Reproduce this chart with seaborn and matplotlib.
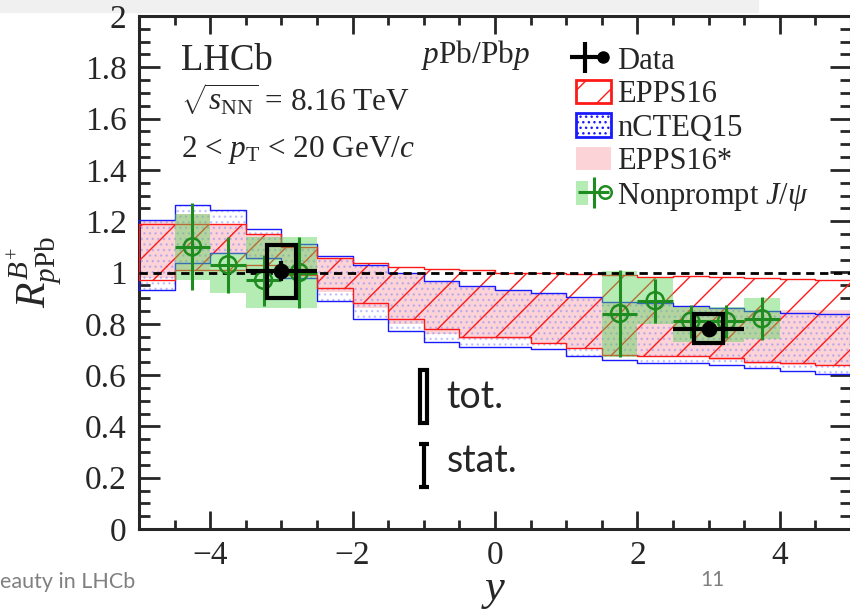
import numpy as np
import matplotlib
matplotlib.use('Agg')
import matplotlib.pyplot as plt
import seaborn as sns
from matplotlib.patches import Patch, Rectangle
from matplotlib.lines import Line2D
from matplotlib.legend_handler import HandlerTuple
from matplotlib.ticker import MultipleLocator, FuncFormatter

# rapidity bins of the model predictions
bin_edges = [-5.0, -4.5, -4.0, -3.5, -3.0, -2.5, -2.0, -1.5, -1.0, -0.5, 0.0,
             0.5, 1.0, 1.5, 2.0, 2.5, 3.0, 3.5, 4.0, 4.5, 5.0]

epps16_hi = [1.19, 1.19, 1.19, 1.15, 1.10, 1.057, 1.037, 1.02, 1.013, 1.01,
             0.998, 0.997, 0.994, 0.99, 0.983, 0.987, 0.983, 0.98, 0.975, 0.97]
epps16_lo = [0.97, 1.01, 1.01, 1.03, 0.99, 0.94, 0.88, 0.82, 0.78, 0.75,
             0.748, 0.725, 0.705, 0.68, 0.675, 0.675, 0.667, 0.65, 0.647, 0.64]

ncteq15_hi = [1.205, 1.265, 1.243, 1.17, 1.11, 1.064, 1.03, 0.998, 0.967, 0.947,
              0.93, 0.92, 0.905, 0.885, 0.88, 0.87, 0.86, 0.85, 0.842, 0.838]
ncteq15_lo = [0.93, 1.037, 1.076, 1.056, 0.98, 0.89, 0.82, 0.77, 0.73, 0.71,
              0.71, 0.70, 0.675, 0.66, 0.647, 0.647, 0.64, 0.627, 0.616, 0.604]

epps16s_hi = [1.20, 1.23, 1.19, 1.15, 1.10, 1.057, 1.03, 1.0, 0.967, 0.947,
              0.93, 0.92, 0.905, 0.885, 0.88, 0.87, 0.86, 0.85, 0.855, 0.855]
epps16s_lo = [0.98, 1.01, 1.075, 1.05, 1.0, 0.925, 0.86, 0.80, 0.76, 0.74,
              0.74, 0.72, 0.70, 0.675, 0.67, 0.67, 0.66, 0.645, 0.64, 0.635]

# B+ data
data_x = [-3.0, 3.0]
data_r = [1.005, 0.78]
data_stat = [0.04, 0.03]
data_tot_lo = [0.90, 0.725]
data_tot_hi = [1.107, 0.838]
data_xerr = 0.5
data_boxw = 0.4

# nonprompt J/psi
jpsi_x = [-4.25, -3.75, -3.25, -2.75, 1.75, 2.25, 2.75, 3.25, 3.75]
jpsi_r = [1.10, 1.03, 0.97, 1.00, 0.84, 0.89, 0.81, 0.81, 0.82]
jpsi_stat = [0.17, 0.11, 0.10, 0.14, 0.17, 0.085, 0.065, 0.065, 0.083]
jpsi_syst_lo = [0.97, 0.92, 0.86, 0.86, 0.67, 0.80, 0.73, 0.73, 0.74]
jpsi_syst_hi = [1.23, 1.076, 1.14, 1.14, 1.005, 0.98, 0.865, 0.865, 0.90]
jpsi_xerr = 0.25

# key for the data error boxes
key_x = -1.0
key_tot = (0.413, 0.62)
key_stat = (0.164, 0.33)

red = '#ff1a1a'
blue = '#1a1aff'
pink = '#fcd3d6'
green_fill = '#5ad65a'
green_line = '#1e8c1e'

sns.set_style('ticks')
plt.rcParams['font.family'] = ['Liberation Serif', 'DejaVu Serif']
plt.rcParams['mathtext.fontset'] = 'custom'
plt.rcParams['mathtext.rm'] = 'Liberation Serif'
plt.rcParams['mathtext.it'] = 'Liberation Serif:italic'
plt.rcParams['mathtext.bf'] = 'Liberation Serif:bold'
plt.rcParams['hatch.linewidth'] = 1.0

fig = plt.figure(figsize=(8.5, 6.16), dpi=100)
ax = fig.add_axes([139 / 850, 1 - 529 / 616, 712 / 850, 513 / 616])

# grey strip of the slide above the plot
fig.patches.append(Rectangle((0, 1 - 12 / 616), 758 / 850, 12 / 616,
                             transform=fig.transFigure, color='#f0f0f0', zorder=-5))

edges = np.array(bin_edges)
def step_vals(v):
    return np.append(v, v[-1])

ax.fill_between(edges, step_vals(epps16s_lo), step_vals(epps16s_hi), step='post',
                facecolor=pink, edgecolor='none', linewidth=0, zorder=1)
ax.fill_between(edges, step_vals(ncteq15_lo), step_vals(ncteq15_hi), step='post',
                facecolor='none', edgecolor='#8080ff', hatch='...', linewidth=0,
                alpha=0.4, zorder=2)
ax.fill_between(edges, step_vals(epps16_lo), step_vals(epps16_hi), step='post',
                facecolor='none', edgecolor=red, hatch='/', linewidth=0, zorder=3)
ax.fill_between(edges, step_vals(ncteq15_lo), step_vals(ncteq15_hi), step='post',
                facecolor='none', edgecolor=blue, linewidth=1.0, zorder=4)
ax.fill_between(edges, step_vals(epps16_lo), step_vals(epps16_hi), step='post',
                facecolor='none', edgecolor=red, linewidth=1.0, zorder=4)

# nonprompt J/psi syst boxes + stat bars
jlo = np.array(jpsi_syst_lo)
jhi = np.array(jpsi_syst_hi)
ax.bar(jpsi_x, jhi - jlo, bottom=jlo, width=2 * jpsi_xerr, color=green_fill,
       alpha=0.45, linewidth=0, zorder=5)
ax.axhline(1.0, color='k', lw=2.0, ls=(0, (3, 2)), zorder=6)
jpsi_eb = ax.errorbar(jpsi_x, jpsi_r, xerr=jpsi_xerr, yerr=jpsi_stat, fmt='none',
                      ecolor=green_line, elinewidth=2.2, capsize=0, zorder=7)
sns.scatterplot(x=jpsi_x, y=jpsi_r, ax=ax, marker='o', s=150, facecolor='none',
                edgecolor=green_line, linewidth=1.8, zorder=8)

# B+ data
dlo = np.array(data_tot_lo)
dhi = np.array(data_tot_hi)
ax.bar(data_x, dhi - dlo, bottom=dlo, width=data_boxw, fill=False, edgecolor='k',
       linewidth=3.0, zorder=9)
data_eb = ax.errorbar(data_x, data_r, xerr=data_xerr, yerr=data_stat, fmt='none',
                      ecolor='k', elinewidth=3.0, capsize=0, zorder=9)
sns.scatterplot(x=data_x, y=data_r, ax=ax, marker='o', s=110, color='k',
                edgecolor='k', zorder=10)

# key for tot. / stat.
ax.bar([key_x], [key_tot[1] - key_tot[0]], bottom=[key_tot[0]], width=0.1,
       fill=False, edgecolor='k', linewidth=3.0, zorder=9)
ax.errorbar([key_x], [(key_stat[0] + key_stat[1]) / 2],
            yerr=[(key_stat[1] - key_stat[0]) / 2], fmt='none', ecolor='k',
            elinewidth=3.0, capsize=3.5, capthick=3.0, zorder=9)
ax.text(key_x + 0.32, (key_tot[0] + key_tot[1]) / 2, 'tot.', fontsize=27,
        family='Lato', va='center', ha='left')
ax.text(key_x + 0.32, (key_stat[0] + key_stat[1]) / 2 + 0.02, 'stat.', fontsize=27,
        family='Lato', va='center', ha='left')

ax.set_xlim(-5, 5)
ax.set_ylim(0, 2)
ax.xaxis.set_major_locator(MultipleLocator(2))
ax.xaxis.set_minor_locator(MultipleLocator(0.5))
ax.yaxis.set_major_locator(MultipleLocator(0.2))
ax.yaxis.set_minor_locator(MultipleLocator(0.05))
ax.yaxis.set_major_formatter(FuncFormatter(lambda v, p: '{:g}'.format(round(v, 2))))
ax.tick_params(axis='x', which='major', direction='in', length=13, width=2,
               top=True, labelsize=24, pad=8)
ax.tick_params(axis='x', which='minor', direction='in', length=6.5, width=2, top=True)
ax.tick_params(axis='y', which='major', direction='in', length=15, width=2,
               right=True, labelsize=24, pad=9)
ax.tick_params(axis='y', which='minor', direction='in', length=8, width=2, right=True)
for s in ax.spines.values():
    s.set_linewidth(2.2)

ax.text(-0.146, 0.5, r'$R^{B^{+}}_{p\mathrm{Pb}}$', transform=ax.transAxes,
        rotation=90, fontsize=30, ha='center', va='center')
ax.text(0.4986, -0.12, r'$y$', transform=ax.transAxes, fontsize=32,
        ha='center', va='center')

ax.text(-4.41, 1.79, 'LHCb', fontsize=26.5, va='baseline')
ax.text(-4.41, 1.633, r'$\sqrt{s_{\mathrm{NN}}}$ = 8.16 TeV', fontsize=22.5, va='baseline')
ax.text(-4.41, 1.45, r'2 < $p_{\mathrm{T}}$ < 20 GeV/$c$', fontsize=22.5, va='baseline')
ax.text(-1.04, 1.817, r'$p$Pb/Pb$p$', fontsize=22.5, va='baseline')

h_data = (data_eb, Line2D([], [], marker='o', ls='none', color='k', ms=8))
h_epps = Patch(facecolor='white', edgecolor=red, hatch='/', linewidth=2)
h_ncteq = Patch(facecolor='white', edgecolor=blue, hatch='...', linewidth=2)
h_star = Patch(facecolor=pink, edgecolor='none')
h_jpsi = (Patch(facecolor=green_fill, alpha=0.45, edgecolor='none'), jpsi_eb,
          Line2D([], [], marker='o', ls='none', mfc='none', mec=green_line, ms=9, mew=1.8))
ax.legend([h_data, h_epps, h_ncteq, h_star, h_jpsi],
          ['Data', 'EPPS16', 'nCTEQ15', 'EPPS16*', r'Nonprompt $J/\psi$'],
          handler_map={tuple: HandlerTuple(ndivide=None)},
          loc='upper left', bbox_to_anchor=(0.614, 0.941), frameon=False,
          fontsize=22, handlelength=1.15, handleheight=0.8, handletextpad=0.2,
          labelspacing=0.14, borderpad=0, borderaxespad=0)

# slide footer
fig.text(0.0, 1 - 582 / 616, 'eauty in LHCb', fontsize=15.5, color='#808080',
         family='Lato', va='center', ha='left')
fig.text(712 / 850, 1 - 580 / 616, '11', fontsize=15, color='#808080',
         family='Lato', va='center', ha='center')

fig.savefig('out.png', dpi=100)
